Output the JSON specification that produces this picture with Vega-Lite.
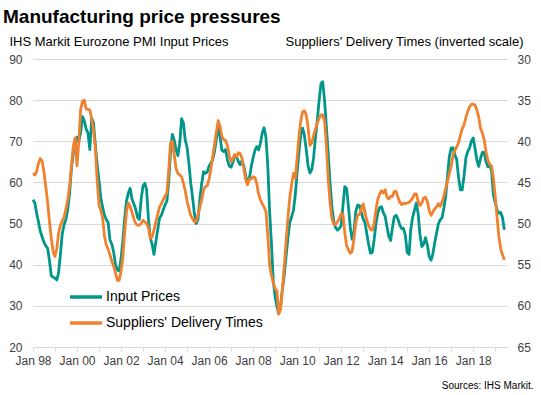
{
"$schema": "https://vega.github.io/schema/vega-lite/v6.json",
"width": 474, "height": 288,
"autosize": {"type": "none"},
"padding": {"left": 33, "top": 59, "right": 34, "bottom": 48},
"config": {"font": "Liberation Sans", "view": {"stroke": null}},
"title": {"text": "Manufacturing price pressures", "anchor": "start", "frame": "group", "fontSize": 19, "fontWeight": "bold", "color": "#000000", "dx": -30, "offset": 8},
"data": {"values": [
{"d":"1998-01","ip":55.8,"sdt":43.9},{"d":"1998-02","ip":55,"sdt":44.1},{"d":"1998-03","ip":52.6,"sdt":43.7},{"d":"1998-04","ip":50.5,"sdt":42.7},{"d":"1998-05","ip":48.2,"sdt":42.1},{"d":"1998-06","ip":46.8,"sdt":42.4},{"d":"1998-07","ip":45.5,"sdt":43.7},{"d":"1998-08","ip":44.6,"sdt":45.5},{"d":"1998-09","ip":44,"sdt":47.4},{"d":"1998-10","ip":41,"sdt":49.8},{"d":"1998-11","ip":37.3,"sdt":51.8},{"d":"1998-12","ip":37,"sdt":53.4},
{"d":"1999-01","ip":36.7,"sdt":54},{"d":"1999-02","ip":36.3,"sdt":53},{"d":"1999-03","ip":38,"sdt":51.2},{"d":"1999-04","ip":42.5,"sdt":50.2},{"d":"1999-05","ip":47.5,"sdt":49.7},{"d":"1999-06","ip":49.7,"sdt":49.2},{"d":"1999-07","ip":51,"sdt":48.2},{"d":"1999-08","ip":53.5,"sdt":47.1},{"d":"1999-09","ip":57.5,"sdt":45.4},{"d":"1999-10","ip":63.5,"sdt":43},{"d":"1999-11","ip":67.1,"sdt":40.6},{"d":"1999-12","ip":68.7,"sdt":39.6},
{"d":"2000-01","ip":71,"sdt":43},{"d":"2000-02","ip":70,"sdt":40},{"d":"2000-03","ip":72,"sdt":36.2},{"d":"2000-04","ip":76,"sdt":35.1},{"d":"2000-05","ip":75,"sdt":35},{"d":"2000-06","ip":73,"sdt":36.1},{"d":"2000-07","ip":72,"sdt":36.1},{"d":"2000-08","ip":68,"sdt":36.2},{"d":"2000-09","ip":75.6,"sdt":37.3},{"d":"2000-10","ip":74.5,"sdt":38.6},{"d":"2000-11","ip":69,"sdt":40.9},{"d":"2000-12","ip":64.3,"sdt":44.8},
{"d":"2001-01","ip":60.3,"sdt":47.8},{"d":"2001-02","ip":56,"sdt":48.4},{"d":"2001-03","ip":54,"sdt":49.3},{"d":"2001-04","ip":52,"sdt":51.5},{"d":"2001-05","ip":51,"sdt":52.6},{"d":"2001-06","ip":50.2,"sdt":53.1},{"d":"2001-07","ip":46,"sdt":53.8},{"d":"2001-08","ip":45,"sdt":54.6},{"d":"2001-09","ip":43,"sdt":55.2},{"d":"2001-10","ip":40,"sdt":56},{"d":"2001-11","ip":38.7,"sdt":56.9},{"d":"2001-12","ip":38.5,"sdt":56.9},
{"d":"2002-01","ip":41.5,"sdt":55.8},{"d":"2002-02","ip":46,"sdt":54},{"d":"2002-03","ip":51,"sdt":51.2},{"d":"2002-04","ip":55.5,"sdt":48.6},{"d":"2002-05","ip":57.4,"sdt":47.5},{"d":"2002-06","ip":58.6,"sdt":47.9},{"d":"2002-07","ip":56,"sdt":48.6},{"d":"2002-08","ip":54.8,"sdt":49.4},{"d":"2002-09","ip":53.5,"sdt":50},{"d":"2002-10","ip":51.5,"sdt":50.2},{"d":"2002-11","ip":51,"sdt":50.2},{"d":"2002-12","ip":56,"sdt":50},
{"d":"2003-01","ip":59.2,"sdt":49.6},{"d":"2003-02","ip":59.8,"sdt":49.8},{"d":"2003-03","ip":58.2,"sdt":50},{"d":"2003-04","ip":51,"sdt":50.5},{"d":"2003-05","ip":46.5,"sdt":51.8},{"d":"2003-06","ip":45,"sdt":51.6},{"d":"2003-07","ip":42.5,"sdt":50.8},{"d":"2003-08","ip":45.5,"sdt":49.8},{"d":"2003-09","ip":48.5,"sdt":48.9},{"d":"2003-10","ip":51.3,"sdt":48},{"d":"2003-11","ip":52,"sdt":47.6},{"d":"2003-12","ip":53.3,"sdt":47.1},
{"d":"2004-01","ip":54.5,"sdt":46.7},{"d":"2004-02","ip":55.5,"sdt":46.2},{"d":"2004-03","ip":60,"sdt":43.6},{"d":"2004-04","ip":67.5,"sdt":40.2},{"d":"2004-05","ip":71.7,"sdt":40},{"d":"2004-06","ip":70.3,"sdt":41.6},{"d":"2004-07","ip":68,"sdt":43.3},{"d":"2004-08","ip":66.5,"sdt":43.9},{"d":"2004-09","ip":69.5,"sdt":44.1},{"d":"2004-10","ip":75.5,"sdt":44.3},{"d":"2004-11","ip":74.4,"sdt":45.1},{"d":"2004-12","ip":70.3,"sdt":46},
{"d":"2005-01","ip":68.5,"sdt":47.3},{"d":"2005-02","ip":64.5,"sdt":48.2},{"d":"2005-03","ip":60,"sdt":49},{"d":"2005-04","ip":56.5,"sdt":49.4},{"d":"2005-05","ip":52.5,"sdt":49.8},{"d":"2005-06","ip":50,"sdt":49.7},{"d":"2005-07","ip":51,"sdt":48.9},{"d":"2005-08","ip":56,"sdt":48},{"d":"2005-09","ip":59.8,"sdt":47.1},{"d":"2005-10","ip":62.6,"sdt":45.9},{"d":"2005-11","ip":62.2,"sdt":45.5},{"d":"2005-12","ip":62.5,"sdt":45.4},
{"d":"2006-01","ip":64,"sdt":44.6},{"d":"2006-02","ip":64.7,"sdt":43.3},{"d":"2006-03","ip":65.5,"sdt":41.9},{"d":"2006-04","ip":67.5,"sdt":40.4},{"d":"2006-05","ip":70.5,"sdt":38.9},{"d":"2006-06","ip":73.5,"sdt":37.5},{"d":"2006-07","ip":71.2,"sdt":38.2},{"d":"2006-08","ip":67.8,"sdt":39.4},{"d":"2006-09","ip":67.5,"sdt":39.8},{"d":"2006-10","ip":68,"sdt":39.9},{"d":"2006-11","ip":65.5,"sdt":40.5},{"d":"2006-12","ip":64,"sdt":41.7},
{"d":"2007-01","ip":63.7,"sdt":42.5},{"d":"2007-02","ip":65,"sdt":42.1},{"d":"2007-03","ip":66.5,"sdt":41.6},{"d":"2007-04","ip":66.3,"sdt":41.9},{"d":"2007-05","ip":65.1,"sdt":41.4},{"d":"2007-06","ip":64.3,"sdt":41.5},{"d":"2007-07","ip":65.3,"sdt":42.1},{"d":"2007-08","ip":64,"sdt":43.4},{"d":"2007-09","ip":61.5,"sdt":44.7},{"d":"2007-10","ip":60.2,"sdt":45.3},{"d":"2007-11","ip":61,"sdt":44.6},{"d":"2007-12","ip":63.8,"sdt":44.6},
{"d":"2008-01","ip":66,"sdt":44.3},{"d":"2008-02","ip":67.8,"sdt":44.4},{"d":"2008-03","ip":68.7,"sdt":45.1},{"d":"2008-04","ip":67.9,"sdt":46.4},{"d":"2008-05","ip":69.5,"sdt":47.1},{"d":"2008-06","ip":72,"sdt":47.6},{"d":"2008-07","ip":73.3,"sdt":48},{"d":"2008-08","ip":71,"sdt":48.5},{"d":"2008-09","ip":64,"sdt":51.5},{"d":"2008-10","ip":53,"sdt":55},{"d":"2008-11","ip":45,"sdt":56.3},{"d":"2008-12","ip":36,"sdt":57.2},
{"d":"2009-01","ip":32.2,"sdt":57.9},{"d":"2009-02","ip":29.7,"sdt":58.2},{"d":"2009-03","ip":28.2,"sdt":61},{"d":"2009-04","ip":30,"sdt":60.4},{"d":"2009-05","ip":34,"sdt":58},{"d":"2009-06","ip":37.5,"sdt":55.2},{"d":"2009-07","ip":42,"sdt":52.2},{"d":"2009-08","ip":46.5,"sdt":49.3},{"d":"2009-09","ip":50.3,"sdt":46.8},{"d":"2009-10","ip":51.6,"sdt":45.3},{"d":"2009-11","ip":53.3,"sdt":43.9},{"d":"2009-12","ip":57,"sdt":44.5},
{"d":"2010-01","ip":62.5,"sdt":42},{"d":"2010-02","ip":67.5,"sdt":39.3},{"d":"2010-03","ip":71.5,"sdt":37.6},{"d":"2010-04","ip":73.2,"sdt":36.4},{"d":"2010-05","ip":71.5,"sdt":36.3},{"d":"2010-06","ip":68,"sdt":36.8},{"d":"2010-07","ip":64,"sdt":38.3},{"d":"2010-08","ip":62.3,"sdt":40.5},{"d":"2010-09","ip":63.1,"sdt":40.2},{"d":"2010-10","ip":66,"sdt":39.3},{"d":"2010-11","ip":71,"sdt":38.5},{"d":"2010-12","ip":75,"sdt":37.8},
{"d":"2011-01","ip":80,"sdt":37.2},{"d":"2011-02","ip":84,"sdt":36.8},{"d":"2011-03","ip":84.5,"sdt":36.8},{"d":"2011-04","ip":80,"sdt":37.5},{"d":"2011-05","ip":73.5,"sdt":40.5},{"d":"2011-06","ip":67,"sdt":44.6},{"d":"2011-07","ip":59.8,"sdt":47.5},{"d":"2011-08","ip":54,"sdt":49.4},{"d":"2011-09","ip":50.5,"sdt":50.1},{"d":"2011-10","ip":49,"sdt":50.1},{"d":"2011-11","ip":48.4,"sdt":49.8},{"d":"2011-12","ip":48.8,"sdt":49.4},
{"d":"2012-01","ip":49.5,"sdt":48.8},{"d":"2012-02","ip":54.5,"sdt":48.9},{"d":"2012-03","ip":59,"sdt":51.1},{"d":"2012-04","ip":58.5,"sdt":52.7},{"d":"2012-05","ip":54.1,"sdt":53.2},{"d":"2012-06","ip":49,"sdt":53.6},{"d":"2012-07","ip":46.2,"sdt":53.4},{"d":"2012-08","ip":48,"sdt":51.8},{"d":"2012-09","ip":53,"sdt":49.9},{"d":"2012-10","ip":54.5,"sdt":49},{"d":"2012-11","ip":54.3,"sdt":48.9},{"d":"2012-12","ip":52.8,"sdt":48.2},
{"d":"2013-01","ip":51.1,"sdt":47.6},{"d":"2013-02","ip":50.2,"sdt":48.7},{"d":"2013-03","ip":47.6,"sdt":49.6},{"d":"2013-04","ip":45,"sdt":50.2},{"d":"2013-05","ip":42.8,"sdt":50.7},{"d":"2013-06","ip":43,"sdt":50.8},{"d":"2013-07","ip":46,"sdt":50},{"d":"2013-08","ip":50,"sdt":48.3},{"d":"2013-09","ip":52.7,"sdt":47},{"d":"2013-10","ip":53.9,"sdt":46.4},{"d":"2013-11","ip":54.1,"sdt":46},{"d":"2013-12","ip":52.7,"sdt":46.3},
{"d":"2014-01","ip":51.7,"sdt":45.9},{"d":"2014-02","ip":49.1,"sdt":46.8},{"d":"2014-03","ip":46.9,"sdt":47},{"d":"2014-04","ip":45.9,"sdt":46.7},{"d":"2014-05","ip":49,"sdt":46.7},{"d":"2014-06","ip":51.7,"sdt":46.1},{"d":"2014-07","ip":52,"sdt":46.1},{"d":"2014-08","ip":51.1,"sdt":46.8},{"d":"2014-09","ip":49.6,"sdt":47.4},{"d":"2014-10","ip":48.8,"sdt":47.7},{"d":"2014-11","ip":48.8,"sdt":47.5},{"d":"2014-12","ip":47.2,"sdt":47.6},
{"d":"2015-01","ip":43,"sdt":47.5},{"d":"2015-02","ip":42.5,"sdt":47.4},{"d":"2015-03","ip":48.5,"sdt":47.2},{"d":"2015-04","ip":51.5,"sdt":46.9},{"d":"2015-05","ip":53.2,"sdt":46.4},{"d":"2015-06","ip":55,"sdt":46.4},{"d":"2015-07","ip":52.5,"sdt":47.3},{"d":"2015-08","ip":47.3,"sdt":47.8},{"d":"2015-09","ip":44.4,"sdt":47.5},{"d":"2015-10","ip":45,"sdt":46.9},{"d":"2015-11","ip":46.6,"sdt":46.8},{"d":"2015-12","ip":44.8,"sdt":47.3},
{"d":"2016-01","ip":42,"sdt":48.4},{"d":"2016-02","ip":41.1,"sdt":49},{"d":"2016-03","ip":42.6,"sdt":48.6},{"d":"2016-04","ip":45.3,"sdt":48.2},{"d":"2016-05","ip":47.6,"sdt":48},{"d":"2016-06","ip":49.9,"sdt":47.6},{"d":"2016-07","ip":50.9,"sdt":47.9},{"d":"2016-08","ip":51.4,"sdt":47.4},{"d":"2016-09","ip":53.8,"sdt":46.6},{"d":"2016-10","ip":56.7,"sdt":45.7},{"d":"2016-11","ip":61.8,"sdt":44.8},{"d":"2016-12","ip":66.3,"sdt":43.9},
{"d":"2017-01","ip":68.4,"sdt":43},{"d":"2017-02","ip":68.4,"sdt":41.6},{"d":"2017-03","ip":66.7,"sdt":41.1},{"d":"2017-04","ip":65.6,"sdt":40.7},{"d":"2017-05","ip":61.4,"sdt":40.2},{"d":"2017-06","ip":58.2,"sdt":39.3},{"d":"2017-07","ip":58.2,"sdt":38.5},{"d":"2017-08","ip":61.5,"sdt":38},{"d":"2017-09","ip":66,"sdt":37.1},{"d":"2017-10","ip":67.5,"sdt":36.4},{"d":"2017-11","ip":68.4,"sdt":35.8},{"d":"2017-12","ip":70,"sdt":35.5},
{"d":"2018-01","ip":70.8,"sdt":35.5},{"d":"2018-02","ip":68.2,"sdt":35.6},{"d":"2018-03","ip":65.5,"sdt":36.2},{"d":"2018-04","ip":63.9,"sdt":37},{"d":"2018-05","ip":65.8,"sdt":38.4},{"d":"2018-06","ip":67.3,"sdt":39},{"d":"2018-07","ip":67.3,"sdt":39.8},{"d":"2018-08","ip":65,"sdt":41.3},{"d":"2018-09","ip":63.8,"sdt":42.3},{"d":"2018-10","ip":64.3,"sdt":42.8},{"d":"2018-11","ip":62.7,"sdt":43},{"d":"2018-12","ip":57,"sdt":44.5},
{"d":"2019-01","ip":55,"sdt":46.7},{"d":"2019-02","ip":53.3,"sdt":49.3},{"d":"2019-03","ip":52.5,"sdt":51.5},{"d":"2019-04","ip":52.7,"sdt":53},{"d":"2019-05","ip":51.5,"sdt":53.8},{"d":"2019-06","ip":48.5,"sdt":54.4}
]},
"encoding": {
  "x": {"field": "d", "type": "temporal",
    "scale": {"type": "utc", "domain": [{"year": 1998, "month": 1, "date": 1, "utc": true}, {"year": 2019, "month": 7, "date": 15, "utc": true}]},
    "axis": {
      "values": [{"year":1998,"month":1,"date":1,"utc":true},{"year":1999,"month":1,"date":1,"utc":true},{"year":2000,"month":1,"date":1,"utc":true},{"year":2001,"month":1,"date":1,"utc":true},{"year":2002,"month":1,"date":1,"utc":true},{"year":2003,"month":1,"date":1,"utc":true},{"year":2004,"month":1,"date":1,"utc":true},{"year":2005,"month":1,"date":1,"utc":true},{"year":2006,"month":1,"date":1,"utc":true},{"year":2007,"month":1,"date":1,"utc":true},{"year":2008,"month":1,"date":1,"utc":true},{"year":2009,"month":1,"date":1,"utc":true},{"year":2010,"month":1,"date":1,"utc":true},{"year":2011,"month":1,"date":1,"utc":true},{"year":2012,"month":1,"date":1,"utc":true},{"year":2013,"month":1,"date":1,"utc":true},{"year":2014,"month":1,"date":1,"utc":true},{"year":2015,"month":1,"date":1,"utc":true},{"year":2016,"month":1,"date":1,"utc":true},{"year":2017,"month":1,"date":1,"utc":true},{"year":2018,"month":1,"date":1,"utc":true},{"year":2019,"month":1,"date":1,"utc":true}],
      "labelExpr": "utcyear(datum.value) % 2 == 0 ? utcFormat(datum.value, '%b %y') : ''",
      "grid": false, "domainColor": "#d9d9d9", "tickColor": "#d9d9d9", "tickSize": 4,
      "labelFontSize": 12, "labelColor": "#404040", "labelPadding": 4, "labelFlush": false, "labelOverlap": false,
      "title": "Sources: IHS Markit.", "titleFontSize": 10, "titleFontWeight": "normal", "titleColor": "#000000",
      "titleAlign": "right", "titleX": 500, "titleY": 41, "titleBaseline": "alphabetic"
    }
  }
},
"layer": [
  {"mark": {"type": "line", "strokeWidth": 2.8, "strokeJoin": "round"},
   "encoding": {
     "y": {"field": "ip", "type": "quantitative", "scale": {"domain": [20, 90], "nice": false, "zero": false},
       "axis": {"values": [20,30,40,50,60,70,80,90], "grid": true, "gridColor": "#d9d9d9", "domain": false, "ticks": false,
         "labelPadding": 11, "labelFontSize": 12, "labelColor": "#404040",
         "title": "IHS Markit Eurozone PMI Input Prices", "titleAngle": 0, "titleAlign": "left", "titleX": -24, "titleY": -14,
         "titleBaseline": "alphabetic", "titleFontSize": 13, "titleFontWeight": "normal", "titleColor": "#000000"}},
     "color": {"datum": "Input Prices", "type": "nominal",
       "scale": {"domain": ["Input Prices", "Suppliers' Delivery Times"], "range": ["#00968A", "#F0822F"]},
       "legend": {"orient": "none", "legendX": 35, "legendY": 220, "title": null, "symbolType": "stroke", "symbolSize": 1024,
         "symbolStrokeWidth": 3.5, "labelFontSize": 14, "labelColor": "#000000", "labelOffset": 2, "rowPadding": 1, "padding": 0}}
   }},
  {"mark": {"type": "line", "strokeWidth": 2.8, "strokeJoin": "round"},
   "encoding": {
     "y": {"field": "sdt", "type": "quantitative", "scale": {"domain": [30, 65], "reverse": true, "nice": false, "zero": false},
       "axis": {"orient": "right", "values": [30,35,40,45,50,55,60,65], "grid": false, "domain": false, "ticks": false,
         "labelPadding": 10, "labelFontSize": 12, "labelColor": "#404040",
         "title": "Suppliers' Delivery Times (inverted scale)", "titleAngle": 0, "titleAlign": "right", "titleX": 16, "titleY": -14,
         "titleBaseline": "alphabetic", "titleFontSize": 13, "titleFontWeight": "normal", "titleColor": "#000000"}},
     "color": {"datum": "Suppliers' Delivery Times", "type": "nominal"}
   }}
],
"resolve": {"scale": {"y": "independent"}}
}
